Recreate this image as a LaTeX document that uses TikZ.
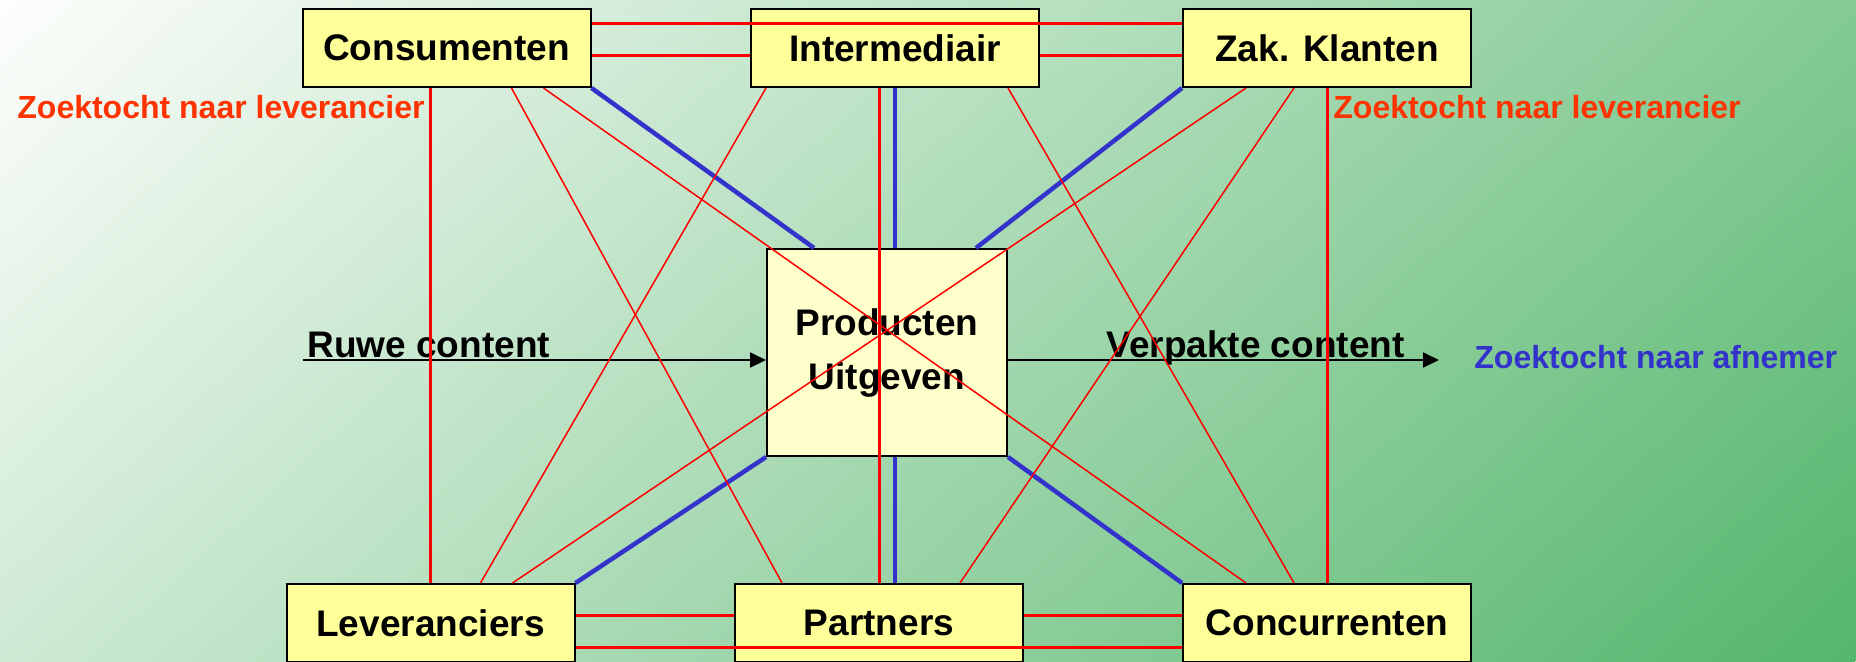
\documentclass[tikz,border=0pt]{standalone}
\usepackage{fontspec}
\setmainfont{Liberation Sans}
\usetikzlibrary{calc,arrows.meta}
\definecolor{boxfill}{RGB}{255,255,153}
\definecolor{corefill}{RGB}{255,255,204}
\definecolor{linkred}{RGB}{255,0,0}
\definecolor{linkblue}{RGB}{51,51,204}
\definecolor{searchred}{RGB}{255,51,0}
\definecolor{bgtop}{RGB}{253,254,252}
\definecolor{bgmid}{RGB}{194,225,199}
\definecolor{bgbot}{RGB}{84,182,108}
\begin{document}
\begin{tikzpicture}[x=0.5pt,y=-0.5pt,
  party/.style={draw=black, line width=1pt, fill=boxfill, minimum width=144pt,
    minimum height=39pt, inner sep=0pt, font=\fontsize{18.5}{22}\selectfont\bfseries},
  core/.style={draw=black, line width=1pt, fill=corefill, minimum width=120pt,
    minimum height=103.5pt, inner sep=0pt, align=center,
    font=\fontsize{18.5}{27}\selectfont\bfseries},
  pair/.style={linkred, line width=1.5pt},
  cross/.style={linkred, line width=0.75pt},
  feed/.style={linkblue, line width=2.25pt},
  flow/.style={black, line width=1pt, -{Triangle[length=8pt,width=7.5pt]}},
  flowlabel/.style={anchor=base west, inner sep=0pt, font=\fontsize{18.5}{22}\selectfont\bfseries},
  search/.style={anchor=base west, inner sep=0pt, font=\fontsize{16}{19}\selectfont\bfseries},
]
\useasboundingbox (0,0) rectangle (1856,661);
\begin{scope}
  \clip (0,0) rectangle (1856,661);
  % diagonal background gradient, light top left to green bottom right
  \shade[transform canvas={rotate=-47.5}, left color=bgtop, middle color=bgmid,
    right color=bgbot] (0,-2200) rectangle (1741,2200);
\end{scope}

% market parties
\node[party] (cons)  at (446.5,48) {Consumenten};
\node[party] (inter) at (895,48)   {Intermediair};
\node[party] (zak)   at (1327,48)  {Zak. Klanten};
\node[party] (lev)   at (430.5,623) {Leveranciers};
\node[party] (part)  at (879,623)  {Partners};
\node[party] (conc)  at (1327,623) {Concurrenten};
% publisher in the middle
\node[core] (prod) at (887,352.5) {Producten\\Uitgeven};

% content flow
\coordinate (rawin) at (303,360);
\coordinate (packout) at (1439,360);
\draw[flow] (rawin) -- (rawin -| prod.west);
\draw[flow] (prod.east |- packout) -- (packout);
\node[flowlabel] (rawlbl) at (307,357) {Ruwe content};
\node[flowlabel] (packlbl) at (1106,357) {Verpakte content};
\node[search, text=linkblue] (buyers) at (1474,368) {Zoektocht naar afnemer};
\node[search, text=searchred] (suppl) at (17,118) {Zoektocht naar leverancier};
\node[search, text=searchred] (suppr) at (1333,118) {Zoektocht naar leverancier};

% publisher links
\draw[feed] (cons.south east) -- ($(prod.north west)+(48,0)$);
\draw[feed] (inter.south) -- ($(prod.north)+(8,0)$);
\draw[feed] (zak.south west) -- ($(prod.north east)+(-32,0)$);
\draw[feed] (lev.north east) -- (prod.south west);
\draw[feed] ($(prod.south)+(8,0)$) -- ($(part.north)+(16,0)$);
\draw[feed] (conc.north west) -- (prod.south east);

% links along the top row
\draw[pair] ($(cons.north east)+(0,15)$) -- ($(zak.north west)+(0,15)$);
\draw[pair] ($(cons.north east)+(0,47)$) -- ($(inter.north west)+(0,47)$);
\draw[pair] ($(inter.north east)+(0,47)$) -- ($(zak.north west)+(0,47)$);
% links along the bottom row
\draw[pair] ($(lev.north east)+(0,32)$) -- ($(part.north west)+(0,32)$);
\draw[pair] ($(part.north east)+(0,32)$) -- ($(conc.north west)+(0,32)$);
\draw[pair] ($(lev.north east)+(0,64)$) -- ($(conc.north west)+(0,64)$);
% vertical links
\draw[pair] (lev.north |- cons.south) -- (lev.north);
\draw[pair] (part.north |- inter.south) -- (part.north);
\draw[pair] (zak.south) -- (conc.north);
% diagonal links
\draw[cross] ($(cons.south east)+(-80,0)$) -- ($(part.north west)+(48,0)$);
\draw[cross] ($(cons.south east)+(-48,0)$) -- ($(conc.north west)+(64,0)$);
\draw[cross] ($(inter.south west)+(16,0)$) -- ($(lev.north east)+(-95,0)$);
\draw[cross] ($(inter.south east)+(-32,0)$) -- ($(conc.north west)+(112,0)$);
\draw[cross] ($(zak.south west)+(64,0)$) -- ($(lev.north east)+(-63,0)$);
\draw[cross] ($(zak.south west)+(112,0)$) -- ($(part.north east)+(-64,0)$);
\end{tikzpicture}
\end{document}
